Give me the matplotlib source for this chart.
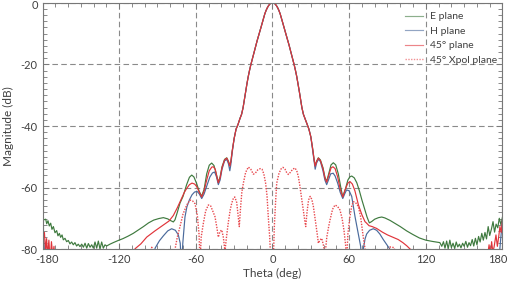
import matplotlib
matplotlib.use("Agg")
import matplotlib.pyplot as plt
from matplotlib.ticker import MultipleLocator
from matplotlib.transforms import ScaledTranslation
import numpy as np

plt.rcParams['font.family'] = ['Lato', 'DejaVu Sans']
plt.rcParams['axes.unicode_minus'] = False

# ---------------- data ----------------
beam_theta = [-21, -20, -19, -18, -17, -16, -15, -14, -13, -12, -11, -10, -9, -8, -7, -6, -5, -4, -3, -2, -1, 0,
              1, 2, 3, 4, 5, 6, 7, 8, 9, 10, 11, 12, 13, 14, 15, 16, 17, 18, 19, 20, 21]
beam_db = [-28.8, -26.3, -24.0, -22.0, -20.2, -18.6, -17.0, -15.4, -13.8, -12.3, -10.9, -9.5, -8.0, -6.5, -5.0, -3.6, -2.5, -1.6, -0.9, -0.4, -0.1, 0.0,
           -0.1, -0.4, -0.9, -1.6, -2.5, -3.6, -5.0, -6.5, -8.0, -9.5, -10.9, -12.3, -13.8, -15.4, -17.0, -18.6, -20.2, -22.0, -24.0, -26.3, -28.8]

# E plane
e_left_theta = [-180.0, -178.8, -177.5, -176.7, -175.7, -174.7, -173.6, -172.6, -171.5, -170.2, -168.9, -167.9, -166.8,
                -165.8, -164.7, -163.7, -162.4, -161.1, -159.8, -158.5, -157.2, -155.9, -154.6, -153.3, -152.0, -150.7,
                -149.3, -148.0, -146.7, -145.4, -144.1, -142.8, -141.5, -140.2, -138.9, -137.6, -136.3, -135.0, -133.7,
                -132.4, -131.1, -129.8, -127.2, -124.6, -120.7, -117, -113, -109, -105, -101, -97, -93, -89, -85.4,
                -82, -80, -77.6, -76.3, -74.5, -72.4, -70, -67.2, -65, -63.2, -61.5, -59.5, -57.5, -55.5, -53.5, -51.5,
                -49.5, -47.6, -45.8, -44, -42.5, -41, -39.5, -37.5, -35.8, -34.5, -33.4, -32.6, -31.5, -30, -28.5, -27,
                -25.5, -24.2, -23, -22]
e_left_db = [-69.9, -70.4, -70.2, -71.7, -70.7, -72.4, -71.5, -73.5, -72.6, -74.6, -73.9, -75.6, -74.8,
             -76.1, -75.3, -76.9, -76.4, -77.5, -77.1, -78.2, -77.6, -78.5, -77.8, -78.9, -78.3, -79.1,
             -78.3, -79.3, -78.0, -79.6, -78.1, -79.3, -78.5, -79.6, -77.6, -79.6, -77.3, -79.9, -77.6,
             -79.6, -78.5, -78.9, -78.3, -77.8, -77.1, -76.5, -75.7, -74.8, -73.7, -72.6, -71.4, -70.5, -70.0, -69.7,
             -70.1, -70.6, -71.1, -70.4, -68.0, -65.0, -62.8, -59.0, -56.6, -55.9, -56.5, -58.5, -61.0, -62.8, -60.5, -55.5,
             -52.7, -52.0, -52.8, -55.5, -58.2, -56.5, -53.2, -50.8, -50.3, -51.4, -52.8, -51.5, -48.0, -44.0, -41.0, -39.5,
             -37.6, -36.2, -34.0, -31.4]
e_right_theta = [22, 23, 24.2, 25.5, 27, 28.5, 30, 31.5, 32.6, 33.4, 34.5, 35.9, 37.5, 39.5, 41, 42.4, 44, 45.8, 47.6,
                 49.5, 51.5, 53.5, 55, 57, 59, 60.5, 62, 64, 66, 68, 70, 72, 74, 75.8, 77.5, 80, 83, 85.5, 88, 92, 96,
                 100, 105, 110, 115, 120, 125, 131, 132.5, 133.8, 135, 136.3, 137.5, 138.8, 140, 141.3, 142.6, 143.8,
                 145, 146.3, 147.5, 148.8, 150, 151.3, 152.6, 153.8, 155, 156.3, 157.5, 158.8, 160, 161.3, 162.5,
                 163.8, 165, 166.3, 167.5, 168.8, 170, 171.3, 172.6, 173.8, 175, 176.3, 177.5, 178.8, 180]
e_right_db = [-31.4, -34.0, -36.2, -37.6, -39.3, -41.0, -43.5, -47.5, -51.0, -52.8, -51.4, -50.3, -51.0, -53.5, -56.5,
              -58.0, -55.5, -52.6, -51.9, -52.6, -55.5, -60.0, -63.0, -60.5, -57.5, -56.5, -56.2, -56.8, -58.4, -61.0,
              -64.0, -66.8, -69.5, -71.4, -71.0, -70.2, -69.7, -69.5, -69.8, -70.6, -71.6, -72.6, -74.0, -75.2, -76.3,
              -77.0, -77.4, -77.8, -79.0, -77.5, -79.6, -77.3, -79.8, -77.0, -79.4, -78.0, -79.7, -77.6, -79.2, -78.3,
              -79.5, -78.0, -79.0, -77.4, -79.3, -77.8, -78.8, -76.8, -78.9, -76.4, -78.5, -75.8, -77.6, -74.8, -77.0,
              -74.5, -76.6, -72.6, -75.5, -73.5, -71.0, -74.4, -71.8, -73.0, -69.9, -72.0, -69.5]

# H plane
h_left_theta = [-180, -179.3, -178.5, -177.5, -93, -91.9, -88.5, -85.4, -82, -78.9, -76, -73.7, -72.2, -71.3, -70.2,
                -68.5, -67, -65.1, -63, -61, -59, -57.3, -55.4, -53.5, -51.5, -49, -47, -45.3, -43.8, -42.4, -41,
                -39.5, -37.5, -35.8, -34.5, -33.4, -32.6, -31.5, -30, -28.5, -27, -25.5, -24.2, -23, -22]
h_left_db = [-71.0, -75.5, -80.5, -90, -90, -79.6, -77.2, -75.6, -74.0, -73.3, -73.8, -75.3, -78.0, -86.0, -78.0,
             -69.5, -66.2, -64.0, -62.3, -61.4, -61.2, -62.0, -63.5, -62.0, -59.5, -56.5, -55.2, -54.9, -56.5, -59.0, -57.5,
             -54.0, -51.3, -50.8, -52.2, -54.5, -52.5, -48.5, -44.0, -41.0, -39.5, -37.6, -36.2, -34.0, -31.4]
h_right_theta = [22, 23, 24.2, 25.5, 27, 28.5, 30, 31.5, 32.6, 33.4, 34.5, 35.9, 37.5, 39.5, 41, 42.4, 43.8, 45.5,
                 47.5, 49, 51, 53, 55, 56.5, 58, 60, 62, 64.6, 67.2, 69, 70, 71, 72.5, 73.7, 76, 78.9, 81.5, 84, 86.7,
                 89.5, 92, 94, 176, 177.5, 178.5, 179.3, 180]
h_right_db = [-31.4, -34.0, -36.2, -37.6, -39.3, -41.0, -43.5, -48.0, -51.5, -54.0, -52.0, -50.8, -51.5, -54.5, -57.5,
              -59.0, -57.5, -55.5, -55.3, -56.2, -58.5, -61.5, -63.5, -62.0, -60.7, -61.0, -62.8, -69.4, -75.0, -79.0,
              -86.0, -80.0, -76.5, -75.0, -73.8, -73.3, -73.8, -75.0, -76.8, -78.5, -80.0, -90, -90, -82.0, -77.0,
              -73.5, -70.5]

# 45 deg plane
p45_left_theta = [-180, -179.2, -178.5, -177.6, -176.8, -176, -175, -174, -173, -172, -171, -170, -168, -110,
                  -107.6, -103, -98.4, -92, -85.4, -81, -77.6, -74.5, -71.1, -69, -67.1, -65, -63, -61, -59.3, -57.3,
                  -55.4, -53.5, -51.5, -49.5, -47.5, -46.3, -44.8, -43.5, -42.4, -41, -39.5, -37.5, -35.8, -34.5,
                  -33.4, -32.6, -31.5, -30, -28.5, -27, -25.5, -24.2, -23, -22]
p45_left_db = [-72.5, -76.0, -74.5, -80.5, -76.5, -82.0, -77.0, -84.0, -77.5, -82.0, -79.0, -86.0, -90, -90,
               -79.8, -78.2, -76.0, -74.0, -72.1, -70.8, -69.0, -66.5, -63.4, -61.5, -60.2, -59.0, -58.5, -58.8, -59.6, -61.5,
               -63.0, -61.0, -57.5, -54.5, -53.3, -53.2, -54.0, -56.5, -58.4, -56.8, -53.5, -51.0, -50.4, -51.5,
               -53.0, -51.5, -48.0, -44.0, -41.0, -39.5, -37.6, -36.2, -34.0, -31.4]
p45_right_theta = [22, 23, 24.2, 25.5, 27, 28.5, 30, 31.5, 32.6, 33.4, 34.5, 35.9, 37.5, 39.5, 41, 42.4, 44, 45.8,
                   47.3, 49, 51, 53, 55, 57, 59, 60.6, 62.5, 64.5, 67.2, 70, 72.4, 73.7, 75.5, 78, 81.5, 86, 90, 95,
                   98.4, 102, 105, 108, 110, 166, 168, 169.5, 170.5, 171.5, 172.5, 173.5, 174.9, 176, 177, 178, 179, 180]
p45_right_db = [-31.4, -34.0, -36.2, -37.6, -39.3, -41.0, -43.5, -47.5, -51.0, -53.0, -51.5, -50.4, -51.2, -53.8,
                -56.8, -58.2, -56.0, -53.6, -53.2, -53.8, -56.5, -60.5, -63.0, -60.5, -58.5, -58.0, -58.8, -61.0, -65.5,
                -68.8, -71.0, -71.5, -72.3, -72.6, -73.2, -74.4, -75.3, -76.2, -76.8, -77.8, -78.8, -80.0, -90, -90,
                -83.0, -78.5, -82.0, -77.5, -81.0, -79.0, -75.3, -79.0, -76.0, -72.6, -74.5, -70.5]

# 45 deg Xpol plane
xp_theta = [-100, -97, -94.5, -92, -80, -77, -76.3, -74.5, -72.4, -70, -67.1, -64.6, -62.5, -60.6, -58.8, -57.5,
            -56.7, -55.8, -54.1, -52.3, -50.2, -48.5, -46.8, -45, -43.5, -42.4, -41.1, -39.7, -38.5, -37.2, -36,
            -34.5, -33, -31.9, -30.5, -29.5, -28, -26.8, -26, -25, -24, -22.8, -21, -18.9, -17, -15, -13.5, -11.5,
            -9.5, -8.2, -6.8, -5.4, -4.3, -3.3, -2.2, -1.2, 0, 0.6, 1.5, 2.5, 3.3, 5, 6.5, 8.2, 9.8, 11, 12.4, 14,
            15.8, 17.6, 19, 20.3, 21.5, 22.8, 24.1, 25.2, 26, 27, 28.2, 29.5, 30.8, 32, 33.5, 35, 35.9, 37.2, 38.5,
            39.8, 41.1, 42.5, 44, 45, 47, 48.9, 50.8, 52.8, 54.5, 56, 57.2, 58, 59, 60.6, 62, 63.2, 65, 67.2, 69, 71,
            72.5, 73.7, 80, 88, 90, 92, 95, 97, 100]
xp_db = [-90, -84, -79.3, -84, -90, -82, -80, -76, -72.6, -68.5, -65.6, -64.0, -64.3, -65.2, -69.0, -75.0,
         -84, -76, -71.5, -67.5, -65.6, -65.8, -67.5, -69.4, -73.0, -76.0, -74.2, -73.7, -76.0, -80.5, -76.0,
         -71.0, -67.0, -65.0, -63.3, -63.0, -64.8, -69.4, -72.6, -66.5, -61.5, -58.5, -55.0, -53.3, -54.0, -55.6, -55.3, -54.2,
         -53.8, -54.0, -55.5, -58.5, -62.5, -69.4, -76.0, -85, -88, -84, -72, -64, -58.5, -55.5, -54.0, -53.4, -54.0, -55.0, -55.7, -55.0,
         -54.0, -53.6, -54.5, -56.5, -59.6, -63.5, -67.2, -70.5, -72.6, -68.0, -64.0, -62.8, -63.8, -66.1, -70.5, -75.0,
         -78.0, -77.0, -76.4, -78.5, -82.0, -76.0, -72.5, -70.5, -67.0, -65.6, -66.0, -67.2, -70.0, -74.0, -78.5, -84,
         -75.0, -69.4, -66.0, -64.5, -64.8, -66.1, -69.5, -75.9, -80.0, -86, -90, -90, -82, -79.2, -79.4, -82, -90]

x_ticks = [-180, -120, -60, 0, 60, 120, 180]
y_ticks = [0, -20, -40, -60, -80]
legend_labels = ["E plane", "H plane", "45\u00b0 plane", "45\u00b0 Xpol plane"]

# ---------------- assemble curves ----------------
def curve(lt, ld, rt, rd):
    return np.array(lt + beam_theta + rt), np.array(ld + beam_db + rd)

e_t, e_d = curve(e_left_theta, e_left_db, e_right_theta, e_right_db)
h_t, h_d = curve(h_left_theta, h_left_db, h_right_theta, h_right_db)
p_t, p_d = curve(p45_left_theta, p45_left_db, p45_right_theta, p45_right_db)

fig = plt.figure(figsize=(5.09, 2.87), dpi=100)
ax = fig.add_axes([0.0835, 0.131, 0.9037, 0.8596])

c_e = '#3f7a3f'
c_h = '#4a6a9c'
c_p = '#e0343a'
c_x = '#e8474c'

ax.plot(e_t, e_d, color=c_e, lw=0.85, label=legend_labels[0])
ax.plot(h_t, h_d, color=c_h, lw=0.85, label=legend_labels[1])
ax.plot(p_t, p_d, color=c_p, lw=0.85, label=legend_labels[2])
ax.plot(xp_theta, xp_db, color=c_x, lw=1.0, linestyle=(0, (1, 1)), label=legend_labels[3])

ax.set_xlim(-180, 180)
ax.set_ylim(-80, 0)
ax.set_xticks(x_ticks)
ax.set_yticks(y_ticks)
ax.set_xticklabels([str(v) for v in x_ticks])
ax.set_yticklabels([str(v) for v in y_ticks])
ax.xaxis.set_minor_locator(MultipleLocator(10))
ax.yaxis.set_minor_locator(MultipleLocator(2))

ax.grid(True, which='major', color='#8a8a8a', lw=0.8, linestyle=(0, (5, 3)))
ax.set_axisbelow(True)

ax.tick_params(which='both', direction='in', top=True, right=True, colors='#777777',
               labelcolor='#404040', labelsize=8)
ax.tick_params(which='major', length=4, width=0.6)
ax.tick_params(which='minor', length=3, width=0.6)
for s in ax.spines.values():
    s.set_color('#777777')
    s.set_linewidth(0.8)

# keep end labels inside the figure, as in the reference
xl = ax.get_xticklabels()
xl[0].set_transform(xl[0].get_transform() + ScaledTranslation(5 / 100, 0, fig.dpi_scale_trans))
xl[-1].set_transform(xl[-1].get_transform() + ScaledTranslation(-5 / 100, 0, fig.dpi_scale_trans))
yl = ax.get_yticklabels()
yl[0].set_transform(yl[0].get_transform() + ScaledTranslation(0, -2 / 100, fig.dpi_scale_trans))

ax.set_xlabel('Theta (deg)', fontsize=8.5, color='#404040', labelpad=2)
ax.set_ylabel('Magnitude (dB)', fontsize=8.5, color='#404040', labelpad=5)

leg = ax.legend(loc='upper left', bbox_to_anchor=(0.788, 0.962), frameon=False, fontsize=7.5,
                handlelength=1.7, handletextpad=0.75, labelspacing=0.5, borderaxespad=0.0,
                borderpad=0.0)
for t in leg.get_texts():
    t.set_color('#404040')
for h in leg.get_lines():
    h.set_alpha(0.6)

fig.savefig('out.png', dpi=100)
